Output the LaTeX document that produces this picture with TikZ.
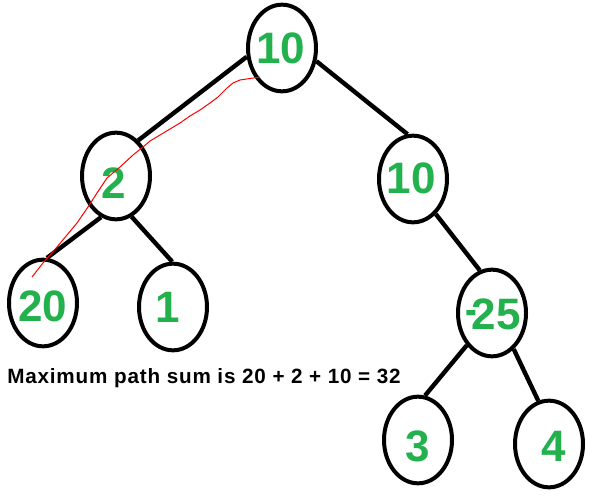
\documentclass[tikz,border=0pt]{standalone}
\usepackage{graphicx}
\usepackage{fontspec}
\setmainfont{Liberation Sans}
\usetikzlibrary{shapes.geometric}
\definecolor{numgreen}{RGB}{34,177,76}
\tikzset{
  treenode/.style={ellipse, draw=black, line width=3pt, minimum width=51pt, minimum height=65pt, inner sep=0pt},
  numtext/.style={text=numgreen, font=\fontsize{33}{33}\selectfont\bfseries, inner sep=0pt},
  edge/.style={line width=3.3pt, line cap=butt},
  redpath/.style={red, line width=0.75pt, line join=round}
}
\begin{document}
\begin{tikzpicture}[x=0.75pt, y=-0.75pt]
\useasboundingbox (0,0) rectangle (598,499);
% tree nodes (ellipses)
\node[treenode] (n10) at (282,48) {};
\node[treenode] (n2) at (116,176) {};
\node[treenode] (n20) at (43,303) {};
\node[treenode] (n1) at (173,307) {};
\node[treenode] (r10) at (413,179) {};
\node[treenode] (m25) at (492,313) {};
\node[treenode] (n3) at (418,440) {};
\node[treenode] (n4) at (549,444) {};
% numbers
\node[numtext] (t10) at (281,48.5) {10};
\node[numtext] (t2) at (114,183) {2};
\node[numtext] (t20) at (43,306) {20};
\node[numtext] (t1) at (168,307) {1};
\node[numtext] (tr10) at (411,178) {10};
\node[numtext] (tm25) at (493,314) {\raisebox{0.11em}{\scalebox{0.8}[1]{-}}\kern-0.13em25};
\node[numtext] (t3) at (418,446) {3};
\node[numtext] (t4) at (554,446) {4};
% edges
\draw[edge] (n10.194) -- (n2.58);
\draw[edge] (n10.339) -- (r10.97);
\draw[edge] (n2.250) -- (n20.85);
\draw[edge] (n2.291) -- (n1.91);
\draw[edge] (r10.303) -- (m25.106);
\draw[edge] (m25.232) -- (n3.81);
\draw[edge] (m25.301) -- (n4.104);
% red highlight path
\draw[redpath] (260,77) -- (240,80) -- (233,83) -- (227,88) -- (218,97) -- (210,103) -- (200,110) -- (190,116) -- (180,123) -- (170,129) -- (160,135) -- (150,141) -- (143,147) -- (133,155) -- (120,167) -- (107,178) -- (97,193) -- (88,207) -- (77,223) -- (67,235) -- (57,247) -- (43,263) -- (32,277);
% caption
\node[anchor=base west, inner sep=0pt, font=\fontsize{15.5}{15.5}\selectfont\bfseries\addfontfeature{LetterSpace=4}] (cap) at (7,383) {Maximum path sum is 20 + 2 + 10 = 32};
\end{tikzpicture}
\end{document}
